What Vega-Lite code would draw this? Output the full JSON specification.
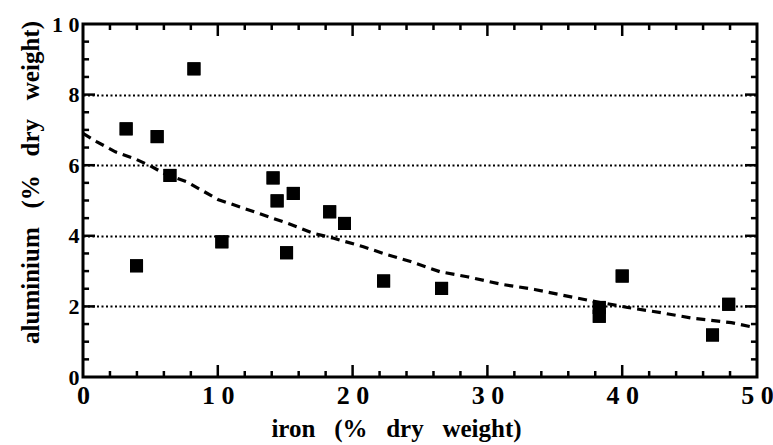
{
  "$schema": "https://vega.github.io/schema/vega-lite/v6.json",
  "width": 674,
  "height": 353,
  "autosize": "none",
  "padding": {"left": 83, "top": 24, "right": 16, "bottom": 68},
  "background": "white",
  "config": {
    "view": {"stroke": "black", "strokeWidth": 3},
    "axis": {
      "domain": false,
      "grid": false,
      "ticks": false,
      "labelFont": "Liberation Serif",
      "labelFontWeight": "bold",
      "labelColor": "black",
      "titleFont": "Liberation Serif",
      "titleFontWeight": "bold",
      "titleColor": "black",
      "labelFlush": false,
      "labelOverlap": false,
      "labelBound": false
    }
  },
  "datasets": {
    "points": [
      {"iron": 3.2, "aluminium": 7.03},
      {"iron": 5.5, "aluminium": 6.81},
      {"iron": 8.23, "aluminium": 8.73},
      {"iron": 6.45, "aluminium": 5.71},
      {"iron": 3.97, "aluminium": 3.15},
      {"iron": 10.3, "aluminium": 3.83},
      {"iron": 14.1, "aluminium": 5.64},
      {"iron": 14.4, "aluminium": 4.99},
      {"iron": 15.6, "aluminium": 5.2},
      {"iron": 15.1, "aluminium": 3.52},
      {"iron": 18.3, "aluminium": 4.68},
      {"iron": 19.4, "aluminium": 4.35},
      {"iron": 22.3, "aluminium": 2.72},
      {"iron": 26.6, "aluminium": 2.51},
      {"iron": 38.3, "aluminium": 1.97},
      {"iron": 38.3, "aluminium": 1.72},
      {"iron": 40.0, "aluminium": 2.86},
      {"iron": 46.7, "aluminium": 1.19},
      {"iron": 47.9, "aluminium": 2.06}
    ],
    "fit": [
      {"iron": 0, "aluminium": 6.9},
      {"iron": 1, "aluminium": 6.67},
      {"iron": 2.4, "aluminium": 6.38},
      {"iron": 3.8, "aluminium": 6.19},
      {"iron": 4.9, "aluminium": 6.0},
      {"iron": 6.0, "aluminium": 5.77},
      {"iron": 7.7, "aluminium": 5.53},
      {"iron": 10.0, "aluminium": 5.03},
      {"iron": 12.7, "aluminium": 4.68},
      {"iron": 15.2, "aluminium": 4.35},
      {"iron": 17.1, "aluminium": 4.07},
      {"iron": 18.6, "aluminium": 3.93},
      {"iron": 20.8, "aluminium": 3.69},
      {"iron": 22.6, "aluminium": 3.46},
      {"iron": 24.3, "aluminium": 3.27},
      {"iron": 26.5, "aluminium": 2.98},
      {"iron": 28.5, "aluminium": 2.84},
      {"iron": 31.0, "aluminium": 2.63},
      {"iron": 33.5, "aluminium": 2.48},
      {"iron": 36.2, "aluminium": 2.27},
      {"iron": 37.4, "aluminium": 2.18},
      {"iron": 40.4, "aluminium": 1.97},
      {"iron": 42.9, "aluminium": 1.82},
      {"iron": 45.3, "aluminium": 1.66},
      {"iron": 48.1, "aluminium": 1.54},
      {"iron": 49.6, "aluminium": 1.42}
    ],
    "xmajor": [{"iron": 10}, {"iron": 20}, {"iron": 30}, {"iron": 40}],
    "xminor": [{"iron": 2}, {"iron": 4}, {"iron": 6}, {"iron": 8}, {"iron": 12}, {"iron": 14}, {"iron": 16}, {"iron": 18}, {"iron": 22}, {"iron": 24}, {"iron": 26}, {"iron": 28}, {"iron": 32}, {"iron": 34}, {"iron": 36}, {"iron": 38}, {"iron": 42}, {"iron": 44}, {"iron": 46}, {"iron": 48}],
    "ymajor": [{"aluminium": 2}, {"aluminium": 4}, {"aluminium": 6}, {"aluminium": 8}],
    "yminor": [{"aluminium": 0.5}, {"aluminium": 1}, {"aluminium": 1.5}, {"aluminium": 2.5}, {"aluminium": 3}, {"aluminium": 3.5}, {"aluminium": 4.5}, {"aluminium": 5}, {"aluminium": 5.5}, {"aluminium": 6.5}, {"aluminium": 7}, {"aluminium": 7.5}, {"aluminium": 8.5}, {"aluminium": 9}, {"aluminium": 9.5}]
  },
  "layer": [
    {
      "data": {"name": "points"},
      "mark": {"type": "point", "shape": "square", "filled": true, "size": 170, "color": "black", "opacity": 1},
      "encoding": {
        "x": {
          "field": "iron", "type": "quantitative",
          "scale": {"domain": [0, 50], "nice": false, "zero": false},
          "axis": {
            "orient": "bottom", "values": [0, 10, 20, 30, 40, 50],
            "labelFontSize": 26, "labelPadding": 5, "labelBaseline": "top",
            "labelExpr": "join(split(datum.label, ''), ' ')",
            "title": "iron\u00a0\u00a0\u00a0(%\u00a0\u00a0\u00a0dry\u00a0\u00a0\u00a0weight)",
            "titleFontSize": 25, "titleX": 313, "titleY": 51, "titleBaseline": "middle", "titleAlign": "center"
          }
        },
        "y": {
          "field": "aluminium", "type": "quantitative",
          "scale": {"domain": [0, 10], "nice": false, "zero": false},
          "axis": {
            "orient": "left", "values": [0, 2, 4, 6, 8, 10],
            "labelFontSize": 22, "labelPadding": 4, "labelBaseline": "middle", "labelAlign": "right",
            "labelExpr": "join(split(datum.label, ''), ' ')",
            "grid": true, "gridColor": "black", "gridDash": [2, 2.5], "gridWidth": 2,
            "gridOpacity": {"condition": {"test": "datum.value > 0 && datum.value < 10", "value": 1}, "value": 0},
            "title": "aluminium\u00a0\u00a0\u00a0(%\u00a0\u00a0\u00a0dry\u00a0\u00a0\u00a0weight)",
            "titleFontSize": 25, "titleAngle": -90, "titleX": -53, "titleY": 158, "titleBaseline": "middle", "titleAlign": "center"
          }
        }
      }
    },
    {
      "data": {"name": "xmajor"},
      "mark": {"type": "rule", "color": "black", "strokeWidth": 2.5},
      "encoding": {
        "x": {"field": "iron", "type": "quantitative", "axis": null},
        "y": {"datum": 0, "type": "quantitative", "axis": null},
        "y2": {"datum": 0.34}
      }
    },
    {
      "data": {"name": "xmajor"},
      "mark": {"type": "rule", "color": "black", "strokeWidth": 2.5},
      "encoding": {
        "x": {"field": "iron", "type": "quantitative", "axis": null},
        "y": {"datum": 10, "type": "quantitative", "axis": null},
        "y2": {"datum": 9.66}
      }
    },
    {
      "data": {"name": "xminor"},
      "mark": {"type": "rule", "color": "black", "strokeWidth": 2.5},
      "encoding": {
        "x": {"field": "iron", "type": "quantitative", "axis": null},
        "y": {"datum": 0, "type": "quantitative", "axis": null},
        "y2": {"datum": 0.17}
      }
    },
    {
      "data": {"name": "xminor"},
      "mark": {"type": "rule", "color": "black", "strokeWidth": 2.5},
      "encoding": {
        "x": {"field": "iron", "type": "quantitative", "axis": null},
        "y": {"datum": 10, "type": "quantitative", "axis": null},
        "y2": {"datum": 9.83}
      }
    },
    {
      "data": {"name": "ymajor"},
      "mark": {"type": "rule", "color": "black", "strokeWidth": 2.5},
      "encoding": {
        "y": {"field": "aluminium", "type": "quantitative", "axis": null},
        "x": {"datum": 0, "type": "quantitative", "axis": null},
        "x2": {"datum": 0.89}
      }
    },
    {
      "data": {"name": "ymajor"},
      "mark": {"type": "rule", "color": "black", "strokeWidth": 2.5},
      "encoding": {
        "y": {"field": "aluminium", "type": "quantitative", "axis": null},
        "x": {"datum": 50, "type": "quantitative", "axis": null},
        "x2": {"datum": 49.11}
      }
    },
    {
      "data": {"name": "yminor"},
      "mark": {"type": "rule", "color": "black", "strokeWidth": 2.5},
      "encoding": {
        "y": {"field": "aluminium", "type": "quantitative", "axis": null},
        "x": {"datum": 0, "type": "quantitative", "axis": null},
        "x2": {"datum": 0.45}
      }
    },
    {
      "data": {"name": "yminor"},
      "mark": {"type": "rule", "color": "black", "strokeWidth": 2.5},
      "encoding": {
        "y": {"field": "aluminium", "type": "quantitative", "axis": null},
        "x": {"datum": 50, "type": "quantitative", "axis": null},
        "x2": {"datum": 49.55}
      }
    },
    {
      "data": {"name": "fit"},
      "mark": {"type": "line", "color": "black", "strokeWidth": 3.2, "strokeDash": [9, 6]},
      "encoding": {
        "x": {"field": "iron", "type": "quantitative", "axis": null},
        "y": {"field": "aluminium", "type": "quantitative", "axis": null}
      }
    },
    {
      "data": {"name": "points"},
      "mark": {"type": "point", "shape": "square", "filled": true, "size": 170, "color": "black", "opacity": 1},
      "encoding": {
        "x": {"field": "iron", "type": "quantitative", "axis": null},
        "y": {"field": "aluminium", "type": "quantitative", "axis": null}
      }
    }
  ],
  "resolve": {"axis": {"x": "independent", "y": "independent"}}
}
